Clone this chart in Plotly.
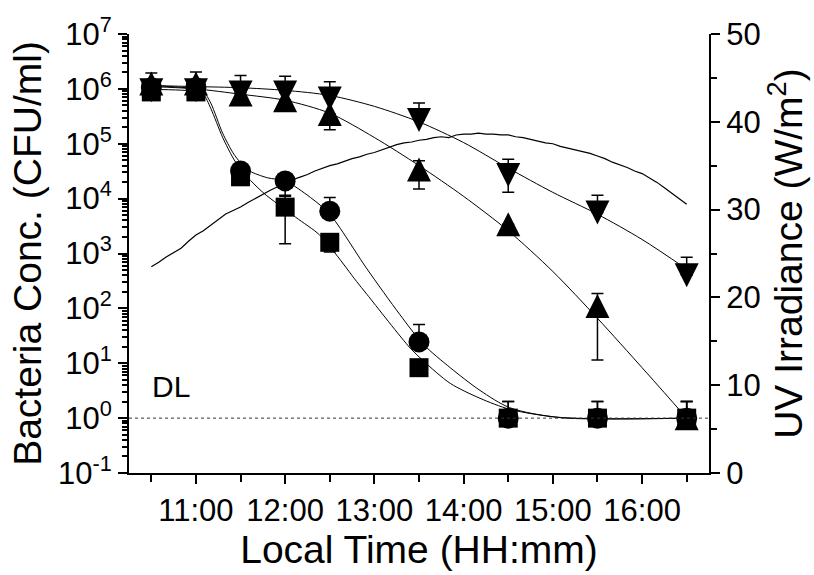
import pandas as pd
import plotly.graph_objects as go

DAY = "2000-01-01 "

# ---- sample times of the bacteria measurements ----
sample_times = ["10:30", "11:00", "11:30", "12:00", "12:30", "13:30", "14:30", "15:30", "16:30"]

# ---- bacteria concentrations (CFU/ml) ----
sq_vals = [8.8e5, 8.8e5, 2.5e4, 7.0e3, 1.6e3, 8.3, 1, 1, 1]
sq_err_plus = [0, 0, 0, 4.5e3, 0, 0, 1, 1, 1]
sq_err_minus = [0, 0, 0, 5.5e3, 5.3e2, 0, 0, 0, 0]

ci_vals = [1.05e6, 1.05e6, 3.2e4, 2.1e4, 5.9e3, 24.5, 1, 1, 1]
ci_err_plus = [0, 0, 0, 0, 4.6e3, 26.5, 1, 1, 1]
ci_err_minus = [0, 0, 0, 1.0e4, 0, 0, 0, 0, 0]

up_vals = [1.25e6, 1.25e6, 7.9e5, 6.2e5, 3.5e5, 3.4e4, 3.4e3, 110, 1]
up_err_plus = [0, 0, 0, 0, 0, 1.5e4, 0, 76, 1]
up_err_minus = [0, 0, 0, 0, 1.7e5, 1.9e4, 0, 98.5, 0]

dn_vals = [9.4e5, 9.4e5, 8.6e5, 8.6e5, 6.7e5, 2.7e5, 2.7e4, 5.6e3, 400]
dn_err_plus = [1.0e6, 1.1e6, 8.9e5, 8.4e5, 6.8e5, 2.8e5, 2.5e4, 5.9e3, 450]
dn_err_minus = [0, 0, 0, 0, 0, 0, 1.4e4, 0, 0]

# ---- fitted curves ----
fit_sq_times = ["10:30", "11:00", "11:05", "11:10", "11:18", "11:25", "11:30", "11:45", "12:07",
                "12:23", "12:34", "12:48", "12:55", "13:24", "13:33", "13:51", "14:11", "14:31",
                "15:05", "16:30"]
fit_sq_vals = [9.8e5, 9.0e5, 8.0e5, 4.4e5, 1.3e5, 5.5e4, 3.4e4, 1.3e4, 4.6e3,
               2.2e3, 9.8e2, 3.1e2, 1.8e2, 19, 11, 4.3, 2.3, 1.45,
               1.03, 1.0]

fit_ci_times = ["10:30", "11:00", "11:05", "11:10", "11:18", "11:25", "11:30", "11:36", "11:48",
                "12:00", "12:17", "12:30", "12:55", "13:17", "13:33", "13:51", "14:11", "14:31",
                "15:05", "16:30"]
fit_ci_vals = [1.15e6, 1.0e6, 9.0e5, 5.5e5, 1.55e5, 6.8e4, 4.5e4, 3.2e4, 2.4e4,
               2.1e4, 1.05e4, 5.2e3, 5.25e2, 78, 22, 8.3, 3.2, 1.55,
               1.02, 1.0]

fit_up_times = ["10:30", "11:00", "11:30", "12:00", "12:30", "13:00", "13:30", "14:00", "14:30",
                "15:00", "15:30", "16:00", "16:15", "16:30"]
fit_up_vals = [1.1e6, 1.0e6, 8.0e5, 6.2e5, 3.6e5, 1.3e5, 4.0e4, 1.1e4, 2.6e3,
               470, 66, 8.3, 2.9, 1.0]

fit_dn_times = ["10:30", "11:00", "11:30", "12:00", "12:30", "13:00", "13:30", "14:00", "14:30",
                "15:00", "15:30", "16:00", "16:30"]
fit_dn_vals = [1.15e6, 1.1e6, 1.05e6, 9.4e5, 7.6e5, 4.8e5, 2.5e5, 1.05e5, 3.6e4,
               1.3e4, 5.2e3, 1.8e3, 520]

# ---- UV irradiance (W/m2), every 5 minutes from 10:30 to 16:30 ----
uv_vals = [23.5, 24.0, 24.6, 25.1, 25.6, 26.4,
           27.1, 27.6, 28.2, 28.8, 29.5, 29.9, 30.3, 30.8, 31.3, 31.7, 32.2, 32.6,
           33.0, 33.4, 33.7, 34.0, 34.4, 34.7, 35.0, 35.2, 35.5, 35.8, 36.0, 36.3,
           36.5, 36.8, 37.1, 37.4, 37.6, 37.7, 37.9, 38.0, 38.2, 38.3, 38.2, 38.5,
           38.6, 38.6, 38.7, 38.6, 38.6, 38.5, 38.5, 38.3, 38.2, 38.0, 37.8, 37.6,
           37.5, 37.2, 37.0, 36.8, 36.6, 36.4, 36.1, 35.8, 35.4, 35.1, 34.8, 34.4,
           34.1, 33.6, 33.1, 32.5, 31.9, 31.3, 30.6]
uv_times = pd.date_range(DAY + "10:30", DAY + "16:30", freq="5min")

# ---- axis ticks ----
x_major = ["11:00", "12:00", "13:00", "14:00", "15:00", "16:00"]
x_minor = ["10:30", "11:30", "12:30", "13:30", "14:30", "15:30", "16:30"]
y_tickvals = [1e-1, 1e0, 1e1, 1e2, 1e3, 1e4, 1e5, 1e6, 1e7]
y_ticktext = ["10<sup>-1</sup>", "10<sup>0</sup>", "10<sup>1</sup>", "10<sup>2</sup>", "10<sup>3</sup>",
              "10<sup>4</sup>", "10<sup>5</sup>", "10<sup>6</sup>", "10<sup>7</sup>"]
uv_tickvals = [0, 10, 20, 30, 40, 50]
detection_limit = 1.0


def ts(lst):
    return [pd.Timestamp(DAY + s) for s in lst]


FONT = "Liberation Sans, Arial, sans-serif"
TICK = 31
TITLE = 39
fig = go.Figure()

fig.add_trace(go.Scatter(x=uv_times, y=uv_vals, yaxis="y2", mode="lines",
                         line=dict(color="black", width=1.2), hoverinfo="skip"))

for tt, vv in [(fit_sq_times, fit_sq_vals), (fit_ci_times, fit_ci_vals),
               (fit_up_times, fit_up_vals), (fit_dn_times, fit_dn_vals)]:
    fig.add_trace(go.Scatter(x=ts(tt), y=vv, mode="lines",
                             line=dict(color="black", width=1, shape="spline", smoothing=0.8)))


def err(p, m):
    return dict(type="data", symmetric=False, array=p, arrayminus=m,
                color="black", thickness=1.5, width=6)


fig.add_trace(go.Scatter(x=ts(sample_times), y=sq_vals, mode="markers",
                         marker=dict(symbol="square", size=19, color="black"),
                         error_y=err(sq_err_plus, sq_err_minus)))
fig.add_trace(go.Scatter(x=ts(sample_times), y=ci_vals, mode="markers",
                         marker=dict(symbol="circle", size=21, color="black"),
                         error_y=err(ci_err_plus, ci_err_minus)))
fig.add_trace(go.Scatter(x=ts(sample_times), y=up_vals, mode="markers",
                         marker=dict(symbol="arrow-down", angle=180, standoff=12, size=24, color="black"),
                         error_y=err(up_err_plus, up_err_minus)))
fig.add_trace(go.Scatter(x=ts(sample_times), y=dn_vals, mode="markers",
                         marker=dict(symbol="arrow-down", angle=0, standoff=12, size=24, color="black"),
                         error_y=err(dn_err_plus, dn_err_minus)))

# detection limit
fig.add_shape(type="line", xref="paper", x0=0, x1=1, yref="y", y0=detection_limit, y1=detection_limit,
              line=dict(color="#333333", width=1, dash="3px,3px"))
fig.add_annotation(x=pd.Timestamp(DAY + "10:43"), y=0.57, xref="x", yref="y", text="DL",
                   showarrow=False, font=dict(size=30, family=FONT, color="black"))

minor_y = [m * 10 ** e for e in range(-1, 7) for m in range(2, 10)]

fig.update_layout(
    width=814, height=575,
    margin=dict(l=129, r=105, t=30, b=102),
    paper_bgcolor="white", plot_bgcolor="white",
    showlegend=False,
    font=dict(family=FONT, size=TICK, color="black"),
    xaxis=dict(type="date", range=[pd.Timestamp(DAY + "10:15"), pd.Timestamp(DAY + "16:45")],
               tickmode="array", tickvals=ts(x_major), ticktext=x_major,
               tickfont=dict(size=TICK),
               ticks="outside", ticklen=9, tickwidth=2, tickcolor="black",
               showline=True, linewidth=2, linecolor="black", showgrid=False, zeroline=False,
               minor=dict(tickmode="array", tickvals=ts(x_minor), ticks="outside", ticklen=7,
                          tickwidth=2, tickcolor="black", showgrid=False),
               title=dict(text="Local Time (HH:mm)", font=dict(size=TITLE), standoff=6)),
    yaxis=dict(type="log", range=[-1, 7], tickmode="array", tickvals=y_tickvals, ticktext=y_ticktext,
               tickfont=dict(size=TICK),
               ticks="outside", ticklen=9, tickwidth=2, tickcolor="black",
               showline=True, linewidth=2, linecolor="black", showgrid=False, zeroline=False,
               minor=dict(tickmode="array", tickvals=minor_y, ticks="outside", ticklen=5,
                          tickwidth=1.5, tickcolor="black", showgrid=False),
               title=dict(text="Bacteria Conc. (CFU/ml)", font=dict(size=TITLE), standoff=4)),
    yaxis2=dict(overlaying="y", side="right", range=[0, 50], tickmode="array", tickvals=uv_tickvals,
                tickfont=dict(size=TICK),
                ticks="outside", ticklen=9, tickwidth=2, tickcolor="black",
                showline=True, linewidth=2, linecolor="black", showgrid=False, zeroline=False,
                minor=dict(dtick=5, ticks="outside", ticklen=6, tickwidth=2, tickcolor="black",
                           showgrid=False),
                title=dict(text="UV Irradiance (W/m<sup>2</sup>)", font=dict(size=TITLE), standoff=10)),
)

fig.write_html("out.html")
